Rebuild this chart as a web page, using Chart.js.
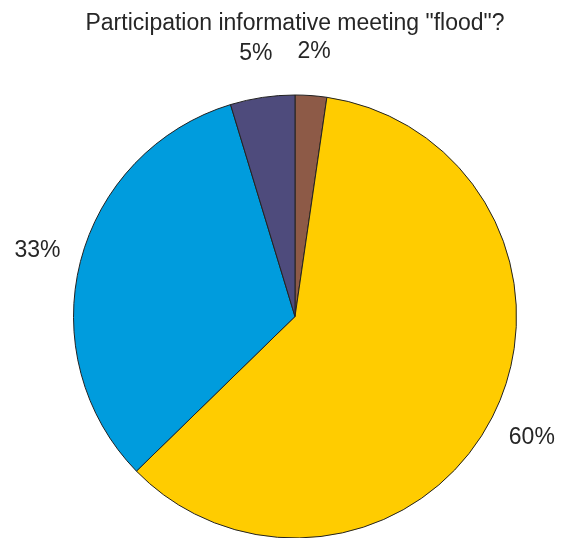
<!DOCTYPE html>
<html>
<head>
<meta charset="utf-8">
<script src="https://cdn.jsdelivr.net/npm/chart.js@4/dist/chart.umd.min.js"></script>
<style>
  html, body { margin: 0; padding: 0; background: #ffffff; }
  canvas { display: block; }
</style>
</head>
<body>
<canvas id="c" width="565" height="538"></canvas>
<script>
// Data (percent of respondents)
const categories = ['Slice 1', 'Slice 2', 'Slice 3', 'Slice 4'];
const values = [2.3, 60.4, 32.6, 4.7];
const colors = ['#8D5A47', '#FFCC00', '#009CDD', '#4E4B7C'];
const titleText = 'Participation informative meeting "flood"?';

const FONT = '"Liberation Sans", Arial, Helvetica, sans-serif';
const total = values.reduce((a, b) => a + b, 0);
const labels = values.map(v => Math.round(v / total * 100) + '%');

const outsideLabels = {
  id: 'outsideLabels',
  afterDatasetsDraw(chart) {
    const ctx = chart.ctx;
    const meta = chart.getDatasetMeta(0);
    ctx.save();
    ctx.font = '23px ' + FONT;
    ctx.fillStyle = '#262626';
    ctx.textAlign = 'center';
    ctx.textBaseline = 'middle';
    meta.data.forEach((arc, i) => {
      const p = arc.getProps(['x', 'y', 'startAngle', 'endAngle', 'outerRadius'], true);
      const mid = (p.startAngle + p.endAngle) / 2;
      const r = p.outerRadius * 1.2;
      ctx.fillText(labels[i], p.x + Math.cos(mid) * r, p.y + Math.sin(mid) * r);
    });
    ctx.restore();
  }
};

new Chart(document.getElementById('c'), {
  type: 'pie',
  data: {
    labels: categories,
    datasets: [{
      data: values,
      backgroundColor: colors,
      borderColor: '#222222',
      borderWidth: 1
    }]
  },
  options: {
    responsive: false,
    animation: false,
    devicePixelRatio: 1,
    radius: 221.5,
    layout: { padding: { left: 73, right: 48, top: 0, bottom: 0 } },
    plugins: {
      legend: { display: false },
      tooltip: { enabled: false },
      title: {
        display: true,
        text: titleText,
        color: '#262626',
        font: { family: FONT, size: 23, weight: 'normal', lineHeight: 1.2 },
        padding: { top: 9.5, bottom: 57.9 }
      }
    }
  },
  plugins: [outsideLabels]
});
</script>
</body>
</html>
